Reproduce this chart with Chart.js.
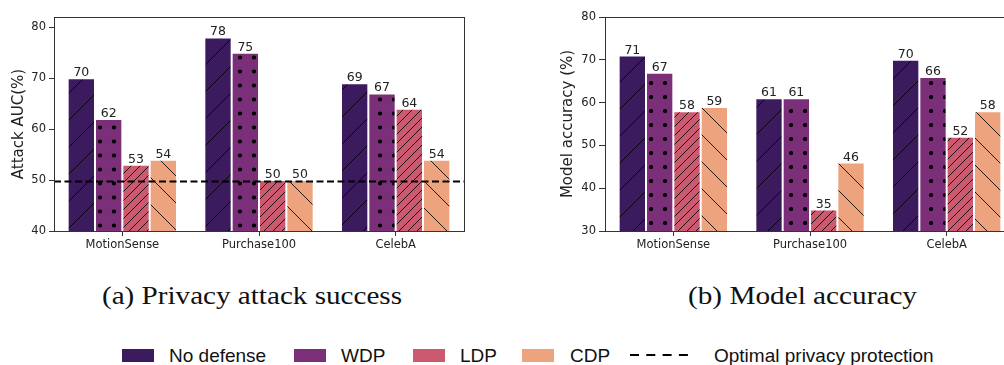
<!DOCTYPE html>
<html>
<head>
<meta charset="utf-8">
<script src="https://cdn.jsdelivr.net/npm/chart.js@4.4.0/dist/chart.umd.min.js"></script>
<style>
  html, body { margin: 0; padding: 0; background: #fff; }
  body { width: 1004px; height: 365px; overflow: hidden; position: relative; }
  .box { position: absolute; top: 0; height: 262px; }
  #leftBox { left: 0; width: 470px; }
  #rightBox { left: 540px; width: 480px; }
  .caption { position: absolute; top: 283px; font-family: "Liberation Serif", serif; font-size: 26px; line-height: 1; color: #111; white-space: nowrap; transform-origin: left center; }
  .swatch { position: absolute; top: 349px; width: 32px; height: 13px; }
  .ltext { position: absolute; top: 346px; font-family: "Liberation Sans", Arial, sans-serif; font-size: 19px; line-height: 1; color: #111; white-space: nowrap; }
  #dashKey { position: absolute; left: 630px; top: 350px; }
</style>
</head>
<body>
<div class="box" id="leftBox"><canvas id="aucChart"></canvas></div>
<div class="box" id="rightBox"><canvas id="accChart"></canvas></div>

<div class="caption" id="capA" style="left:102px">(a) Privacy attack success</div>
<div class="caption" id="capB" style="left:688px">(b) Model accuracy</div>

<div id="legend"></div>
<svg id="dashKey" width="60" height="10"><line x1="0" y1="5" x2="58" y2="5" stroke="#000" stroke-width="2" stroke-dasharray="9 7.3"/></svg>

<script>
const categories = ['MotionSense', 'Purchase100', 'CelebA'];
const seriesNames = ['No defense', 'WDP', 'LDP', 'CDP'];

// attack AUC (%)
const aucNoDefense = [70, 78, 69];
const aucWdp = [62, 75, 67];
const aucLdp = [53, 50, 64];
const aucCdp = [54, 50, 54];
const aucTicks = [40, 50, 60, 70, 80];
const optimalAuc = 49.7;

// model accuracy (%)
const accNoDefense = [71, 61, 70];
const accWdp = [67, 61, 66];
const accLdp = [58, 35, 52];
const accCdp = [59, 46, 58];
const accTicks = [30, 40, 50, 60, 70, 80];

const colors = ['#3b1b5e', '#7c2f79', '#cb5a71', '#eda47e'];
const hatches = ['fwd', 'dots', 'dense', 'back'];
const legendX = [122, 294, 413, 522];
const legendTextX = [169, 341, 460, 570];

// dotX/dotY: where the dot grid sits inside a 14px cell (canvas coords)
function hatchPattern(color, kind, dotX, dotY) {
  const size = kind === 'dense' ? 9 : kind === 'dots' ? 14 : 27;
  const c = document.createElement('canvas');
  c.width = size; c.height = size;
  const g = c.getContext('2d');
  g.fillStyle = color;
  g.fillRect(0, 0, size, size);
  g.strokeStyle = 'rgba(0,0,0,0.85)';
  g.fillStyle = '#000';
  g.lineWidth = 1;
  g.beginPath();
  if (kind === 'fwd' || kind === 'dense') {
    for (const o of [-size, 0, size]) { g.moveTo(o, size); g.lineTo(o + size, 0); }
    g.stroke();
  } else if (kind === 'back') {
    for (const o of [-size, 0, size]) { g.moveTo(o, 0); g.lineTo(o + size, size); }
    g.stroke();
  } else {
    for (const dx of [-size, 0, size]) for (const dy of [-size, 0, size]) {
      const x = dotX + dx, y = dotY + dy;
      g.moveTo(x + 2.1, y);
      g.arc(x, y, 2.1, 0, Math.PI * 2);
    }
    g.fill();
  }
  return g.createPattern(c, 'repeat');
}

const valueLabels = {
  id: 'valueLabels',
  afterDatasetsDraw(chart) {
    const ctx = chart.ctx;
    ctx.save();
    ctx.font = '12.5px "DejaVu Sans"';
    ctx.fillStyle = '#222';
    ctx.textAlign = 'center';
    ctx.textBaseline = 'alphabetic';
    chart.data.datasets.forEach((ds, i) => {
      chart.getDatasetMeta(i).data.forEach((bar, j) => {
        ctx.fillText(String(Math.round(ds.data[j])), bar.x, bar.y - 2);
      });
    });
    ctx.restore();
  }
};

const frame = {
  id: 'frame',
  afterDraw(chart) {
    const a = chart.chartArea;
    const ctx = chart.ctx;
    ctx.save();
    ctx.strokeStyle = '#333';
    ctx.lineWidth = 1;
    ctx.strokeRect(Math.round(a.left) + 0.5, Math.round(a.top) + 0.5, Math.round(a.right - a.left), Math.round(a.bottom - a.top));
    ctx.restore();
  }
};

const optimalLine = {
  id: 'optimalLine',
  afterDatasetsDraw(chart) {
    const y = chart.scales.y.getPixelForValue(optimalAuc);
    const a = chart.chartArea;
    const ctx = chart.ctx;
    ctx.save();
    ctx.strokeStyle = '#000';
    ctx.lineWidth = 2;
    ctx.setLineDash([7, 3.5]);
    ctx.beginPath();
    ctx.moveTo(a.left, y);
    ctx.lineTo(a.right, y);
    ctx.stroke();
    ctx.restore();
  }
};

function makeChart(id, series, ticks, yMin, yMax, yTitle, axisWidth, titlePad, tickLen, padRight, dotPhase, extraPlugins) {
  const datasets = series.map((data, i) => ({
    label: seriesNames[i],
    data: data,
    backgroundColor: hatchPattern(colors[i], hatches[i], dotPhase[0], dotPhase[1]),
    borderColor: 'rgba(255,255,255,0.6)',
    borderWidth: 1,
    barPercentage: 1,
    categoryPercentage: 0.8
  }));
  return new Chart(document.getElementById(id), {
    type: 'bar',
    data: { labels: categories, datasets: datasets },
    options: {
      responsive: true,
      maintainAspectRatio: false,
      animation: false,
      layout: { padding: { top: 17, right: padRight, left: 0, bottom: 0 } },
      plugins: { legend: { display: false }, tooltip: { enabled: false } },
      scales: {
        x: {
          offset: true,
          grid: { drawOnChartArea: false, drawTicks: true, tickLength: 5, color: '#333', offset: false },
          border: { color: '#333' },
          ticks: { font: { family: 'DejaVu Sans', size: 11.5 }, color: '#222', padding: 2, maxRotation: 0 },
          afterFit: s => { s.height = 31; }
        },
        y: {
          min: yMin,
          max: yMax,
          afterBuildTicks: s => { s.ticks = ticks.map(v => ({ value: v })); },
          grid: { drawOnChartArea: false, tickLength: tickLen, color: '#333' },
          border: { color: '#333' },
          ticks: { font: { family: 'DejaVu Sans', size: 11.5 }, color: '#222', padding: 3 },
          title: { display: true, text: yTitle, font: { family: 'DejaVu Sans', size: 15 }, color: '#222', padding: { top: titlePad, bottom: 0 } },
          afterFit: s => { s.width = axisWidth; }
        }
      }
    },
    plugins: [frame, valueLabels].concat(extraPlugins)
  });
}

makeChart('aucChart', [aucNoDefense, aucWdp, aucLdp, aucCdp], aucTicks, 40, 82, 'Attack AUC(%)', 54, 10, 5, 6, [2, 1.5], [optimalLine]);
makeChart('accChart', [accNoDefense, accWdp, accLdp, accCdp], accTicks, 30, 80, 'Model accuracy (%)', 65, 19, 6, 5, [13, 13], []);

// shared legend
const legend = document.getElementById('legend');
seriesNames.forEach((name, i) => {
  const sw = document.createElement('div');
  sw.className = 'swatch';
  sw.style.left = legendX[i] + 'px';
  sw.style.background = colors[i];
  legend.appendChild(sw);
  const t = document.createElement('div');
  t.className = 'ltext';
  t.style.left = legendTextX[i] + 'px';
  t.textContent = name;
  legend.appendChild(t);
});
const optText = document.createElement('div');
optText.className = 'ltext';
optText.style.left = '714px';
optText.textContent = 'Optimal privacy protection';
legend.appendChild(optText);

// stretch captions to the reference widths
function fitWidth(el, target) {
  const w = el.getBoundingClientRect().width;
  el.style.transform = 'scaleX(' + (target / w) + ')';
}
fitWidth(document.getElementById('capA'), 300);
fitWidth(document.getElementById('capB'), 229);
</script>
</body>
</html>
